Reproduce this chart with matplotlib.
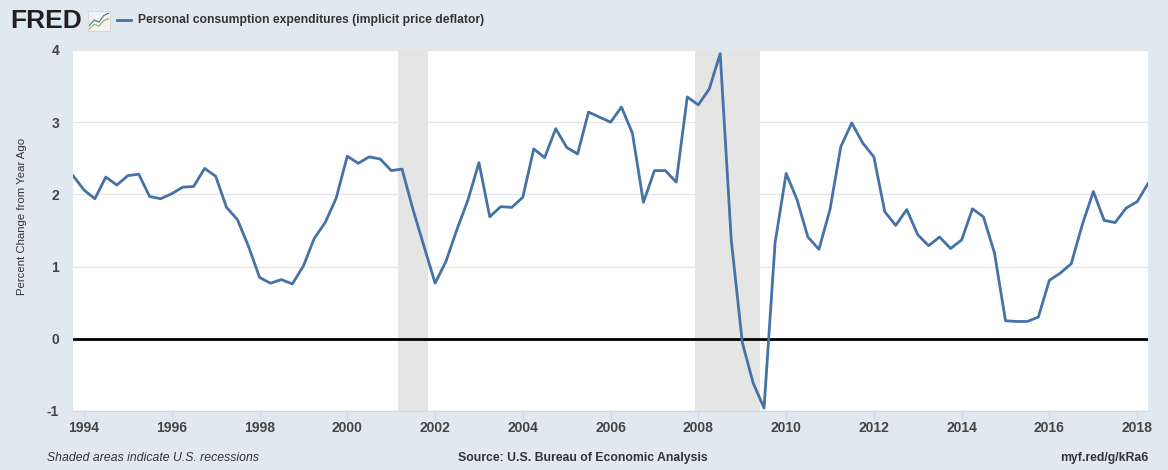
import numpy as np
import pandas as pd
import matplotlib
matplotlib.use('Agg')
import matplotlib.pyplot as plt
import matplotlib.dates as mdates

# quarterly PCE deflator, percent change from year ago, 1993Q4 - 2018Q2
start = '1993-10-01'
pce = [2.26,
       2.06, 1.94, 2.24, 2.13,
       2.26, 2.28, 1.97, 1.94,
       2.01, 2.10, 2.11, 2.36,
       2.25, 1.82, 1.65, 1.28,
       0.85, 0.77, 0.82, 0.76,
       1.01, 1.39, 1.61, 1.95,
       2.53, 2.43, 2.52, 2.49,
       2.33, 2.35, 1.79, 1.28,
       0.77, 1.07, 1.51, 1.92,
       2.44, 1.69, 1.83, 1.82,
       1.96, 2.63, 2.51, 2.91,
       2.65, 2.56, 3.14, 3.07,
       3.00, 3.21, 2.85, 1.89,
       2.33, 2.33, 2.17, 3.35,
       3.24, 3.46, 3.95, 1.37,
       -0.05, -0.61, -0.96, 1.33,
       2.29, 1.93, 1.41, 1.24,
       1.79, 2.66, 2.99, 2.71,
       2.52, 1.76, 1.57, 1.79,
       1.44, 1.29, 1.41, 1.25,
       1.37, 1.80, 1.69, 1.19,
       0.25, 0.24, 0.24, 0.30,
       0.81, 0.91, 1.04, 1.58,
       2.04, 1.64, 1.61, 1.81,
       1.90, 2.15]
recessions = [('2001-03-01', '2001-11-01'), ('2007-12-01', '2009-06-01')]
y_ticks = [-1, 0, 1, 2, 3, 4]
tick_years = list(range(1994, 2019, 2))

title = 'Personal consumption expenditures (implicit price deflator)'
ylabel = 'Percent Change from Year Ago'

dates = pd.date_range(start, periods=len(pce), freq='QS')

bg = '#e1e9f0'
line_col = '#4572a7'
txt = '#333333'

plt.rcParams['font.family'] = ['Liberation Sans', 'DejaVu Sans']

fig = plt.figure(figsize=(11.68, 4.70), dpi=100, facecolor=bg)
W, H = 1168, 470
ax = fig.add_axes([73 / W, 1 - 411 / H, (1148 - 73) / W, (411 - 50) / H])
ax.set_facecolor('white')

for r0, r1 in recessions:
    ax.axvspan(pd.Timestamp(r0), pd.Timestamp(r1), color='#e5e5e5', lw=0, zorder=1)

ax.plot(dates, pce, color=line_col, lw=2, zorder=3)
ax.axhline(0, color='black', lw=2, zorder=2)

ax.set_xlim(dates[0], dates[-1])
ax.set_ylim(-1, 4)
ax.set_yticks(y_ticks)
ax.set_yticklabels([str(t) for t in y_ticks])
ax.grid(axis='y', color='#e6e6e6', lw=1, zorder=0)
ax.set_axisbelow(True)

ax.set_xticks([pd.Timestamp(f'{y}-01-01') for y in tick_years])
ax.xaxis.set_major_formatter(mdates.DateFormatter('%Y'))

for s in ['top', 'right', 'left']:
    ax.spines[s].set_visible(False)
ax.spines['bottom'].set_color('#ccd6eb')
ax.tick_params(axis='x', colors='#ccd6eb', length=6, labelcolor=txt, labelsize=10, pad=1)
ax.tick_params(axis='y', length=0, labelcolor=txt, labelsize=10, pad=10)
for lab in ax.get_xticklabels() + ax.get_yticklabels():
    lab.set_fontweight('bold')
    lab.set_color('#444444')

ax.set_ylabel(ylabel, fontsize=8.2, color=txt)
ax.yaxis.set_label_coords(-0.043, 0.54)

# header: logo and legend
fig.text(10 / W, 1 - 21 / H, 'FRED', fontsize=19, fontweight='bold', color='#231f20',
         va='center', ha='left')
icon = fig.add_axes([88 / W, 1 - 31 / H, 22 / W, 20 / H])
icon.set_facecolor('#f2f2f2')
icon.plot([0, 1, 2, 3, 4], [1, 2, 1.6, 2.8, 3.2], color='#4572a7', lw=0.8)
icon.plot([0, 1, 2, 3, 4], [0.4, 1.2, 0.9, 1.9, 2.2], color='#8ab34b', lw=0.8)
icon.set_xlim(-0.3, 4.3)
icon.set_ylim(0, 3.6)
icon.set_xticks([])
icon.set_yticks([])
for s in icon.spines.values():
    s.set_color('#d0d0d0')
    s.set_linewidth(0.5)

fig.add_artist(plt.Line2D([117 / W, 131 / W], [1 - 20 / H, 1 - 20 / H], color=line_col, lw=2))
fig.text(138 / W, 1 - 20 / H, title, fontsize=8.7, fontweight='bold', color=txt,
         va='center', ha='left')

# footer
fig.text(47 / W, 1 - 458 / H, 'Shaded areas indicate U.S. recessions', fontsize=8.8,
         style='italic', color=txt, va='center', ha='left')
fig.text(583 / W, 1 - 458 / H, 'Source: U.S. Bureau of Economic Analysis', fontsize=8.8,
         fontweight='bold', color=txt, va='center', ha='center')
fig.text(1148 / W, 1 - 458 / H, 'myf.red/g/kRa6', fontsize=8.8, fontweight='bold',
         color=txt, va='center', ha='right')

fig.savefig('out.png', dpi=100, facecolor=bg)
